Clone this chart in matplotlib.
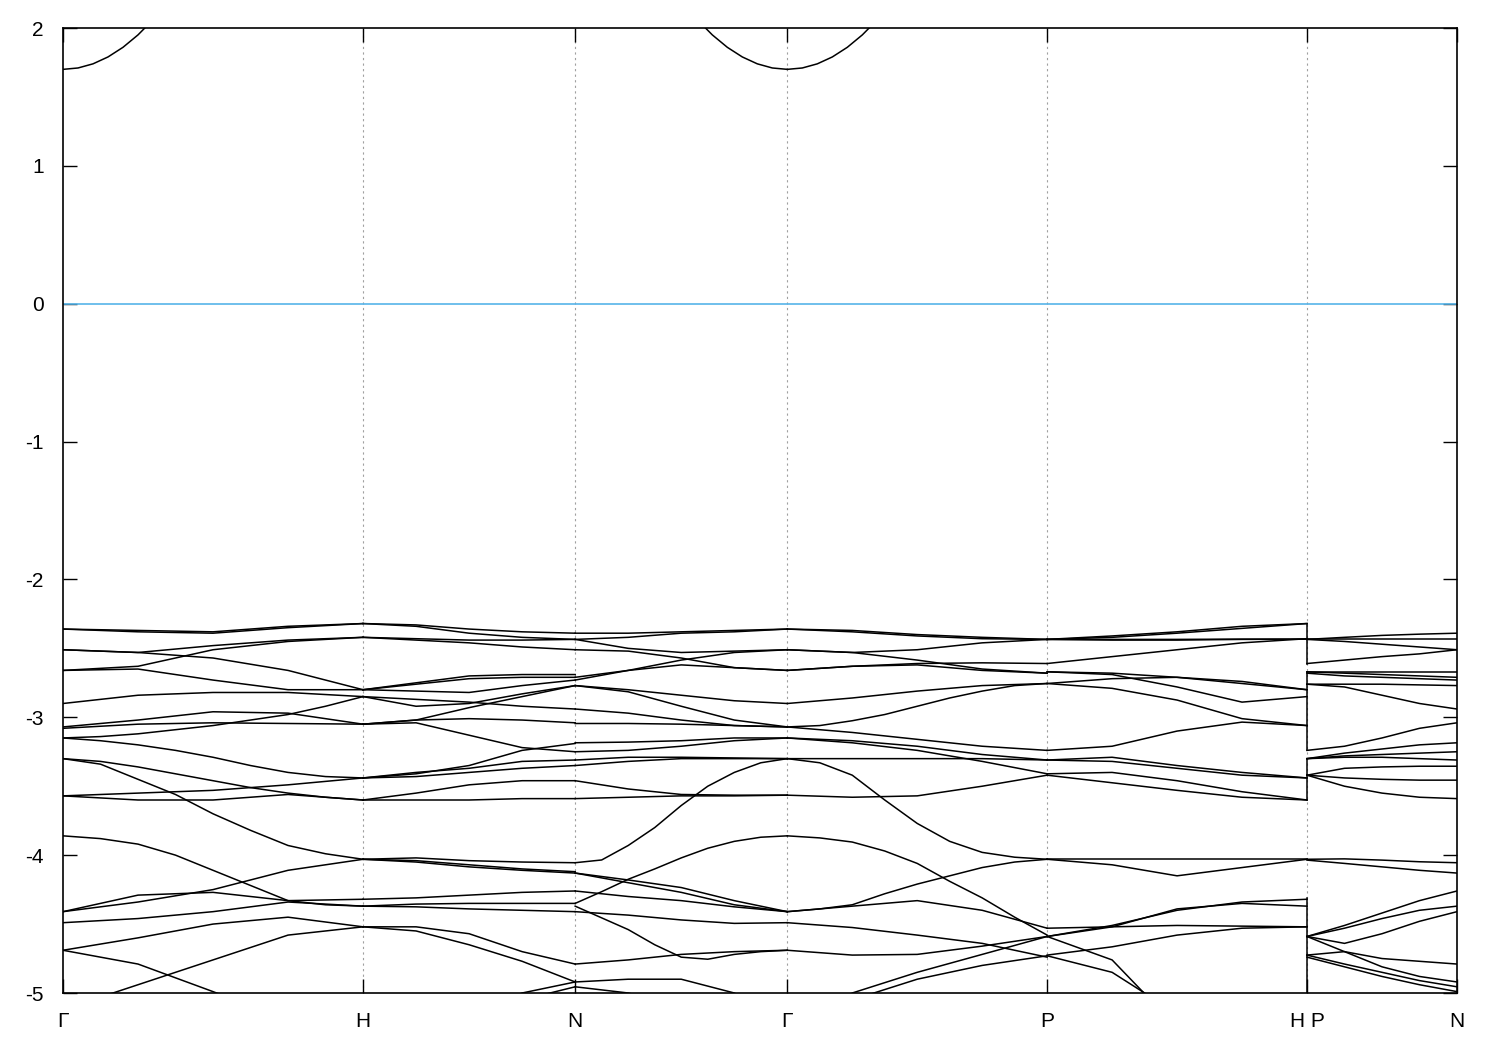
import numpy as np
import matplotlib.pyplot as plt

plt.rcParams['font.family'] = ['Liberation Sans', 'DejaVu Sans']
plt.rcParams['axes.unicode_minus'] = False

# high symmetry points of the bcc path (Γ-H-N-Γ-P-H|P-N)
kticks = [0.0, 1.0, 1.7071, 2.4142, 3.2802, 4.1463, 4.6463]
klabels = ['Γ', 'H', 'N', 'Γ', 'P', 'H P', 'N']

# each band is read at equally spaced points along its segment
# (5 or 9 values per row, from the start to the end of the segment)

# Γ -> H
bands_GH = [
    [-2.36, -2.37, -2.38, -2.34, -2.32],
    [-2.36, -2.38, -2.39, -2.35, -2.32],
    [-2.51, -2.53, -2.48, -2.44, -2.42],
    [-2.51, -2.53, -2.57, -2.66, -2.80],
    [-2.66, -2.63, -2.51, -2.45, -2.42],
    [-2.66, -2.65, -2.73, -2.80, -2.80],
    [-2.90, -2.84, -2.82, -2.82, -2.85],
    [-3.07, -3.02, -2.96, -2.97, -3.05],
    [-3.08, -3.05, -3.04, -3.045, -3.05],
    [-3.15, -3.14, -3.12, -3.09, -3.06, -3.02, -2.98, -2.92, -2.85],
    [-3.15, -3.17, -3.20, -3.24, -3.29, -3.35, -3.40, -3.43, -3.44],
    [-3.30, -3.32, -3.36, -3.41, -3.46, -3.51, -3.55, -3.58, -3.60],
    [-3.30, -3.34, -3.45, -3.56, -3.70, -3.82, -3.93, -3.99, -4.03],
    [-3.57, -3.55, -3.53, -3.49, -3.44],
    [-3.57, -3.60, -3.60, -3.56, -3.60],
    [-3.86, -3.88, -3.92, -4.00, -4.11, -4.22, -4.33, -4.36, -4.37],
    [-4.41, -4.29, -4.27, -4.33, -4.32],
    [-4.41, -4.34, -4.25, -4.11, -4.03],
    [-4.49, -4.46, -4.41, -4.34, -4.37],
    [-4.69, -4.60, -4.50, -4.45, -4.52],
    [-4.69, -4.79, -4.99, -5.20, -5.40],
    [-5.12, -4.94, -4.76, -4.58, -4.52],
]

# H -> N
bands_HN = [
    [-2.32, -2.33, -2.36, -2.38, -2.39],
    [-2.32, -2.34, -2.39, -2.42, -2.435],
    [-2.42, -2.43, -2.44, -2.44, -2.435],
    [-2.42, -2.44, -2.46, -2.49, -2.51],
    [-2.80, -2.75, -2.70, -2.69, -2.69],
    [-2.80, -2.76, -2.72, -2.71, -2.71],
    [-2.80, -2.81, -2.82, -2.77, -2.73],
    [-2.85, -2.92, -2.90, -2.83, -2.77],
    [-2.85, -2.87, -2.89, -2.92, -2.94],
    [-3.05, -3.02, -3.01, -3.02, -3.04],
    [-3.05, -3.02, -2.93, -2.85, -2.77],
    [-3.05, -3.04, -3.13, -3.22, -3.25],
    [-3.44, -3.41, -3.35, -3.24, -3.19],
    [-3.44, -3.40, -3.37, -3.32, -3.31],
    [-3.44, -3.43, -3.40, -3.37, -3.35],
    [-3.60, -3.55, -3.49, -3.46, -3.46],
    [-3.60, -3.60, -3.60, -3.59, -3.59],
    [-4.03, -4.02, -4.04, -4.05, -4.055],
    [-4.03, -4.05, -4.085, -4.11, -4.13],
    [-4.03, -4.04, -4.07, -4.10, -4.12],
    [-4.32, -4.31, -4.29, -4.27, -4.26],
    [-4.37, -4.355, -4.35, -4.35, -4.35],
    [-4.37, -4.375, -4.39, -4.40, -4.41],
    [-4.52, -4.52, -4.57, -4.70, -4.79],
    [-4.52, -4.55, -4.65, -4.77, -4.92],
    [-5.60, -5.40, -5.20, -5.00, -4.92],
    [-5.60, -5.50, -5.30, -5.05, -4.955],
]

# N -> Γ
bands_NG = [
    [-2.39, -2.39, -2.38, -2.37, -2.36],
    [-2.435, -2.42, -2.39, -2.38, -2.36],
    [-2.435, -2.50, -2.53, -2.52, -2.51],
    [-2.51, -2.52, -2.57, -2.64, -2.66],
    [-2.71, -2.66, -2.585, -2.53, -2.51],
    [-2.73, -2.66, -2.62, -2.64, -2.66],
    [-2.77, -2.80, -2.84, -2.88, -2.90],
    [-2.77, -2.815, -2.92, -3.02, -3.07],
    [-2.94, -2.97, -3.02, -3.06, -3.07],
    [-3.045, -3.045, -3.05, -3.06, -3.07],
    [-3.185, -3.18, -3.17, -3.15, -3.15],
    [-3.25, -3.24, -3.21, -3.17, -3.15],
    [-3.31, -3.29, -3.29, -3.295, -3.30],
    [-3.35, -3.32, -3.30, -3.30, -3.30],
    [-3.46, -3.52, -3.56, -3.565, -3.565],
    [-3.59, -3.58, -3.57, -3.57, -3.565],
    [-4.055, -4.035, -3.93, -3.80, -3.64, -3.50, -3.40, -3.33, -3.30],
    [-4.35, -4.265, -4.175, -4.10, -4.02, -3.95, -3.90, -3.87, -3.86],
    [-4.13, -4.18, -4.235, -4.33, -4.41],
    [-4.13, -4.20, -4.27, -4.36, -4.41],
    [-4.26, -4.30, -4.33, -4.375, -4.41],
    [-4.41, -4.435, -4.47, -4.495, -4.49],
    [-4.37, -4.455, -4.54, -4.65, -4.74, -4.755, -4.72, -4.70, -4.69],
    [-4.79, -4.76, -4.72, -4.70, -4.69],
    [-4.92, -4.90, -4.90, -5.00, -5.20],
    [-4.955, -5.00, -5.10, -5.20, -5.30],
]

# Γ -> P
bands_GP = [
    [-2.36, -2.37, -2.40, -2.42, -2.435],
    [-2.36, -2.38, -2.41, -2.43, -2.435],
    [-2.51, -2.53, -2.51, -2.46, -2.435],
    [-2.51, -2.53, -2.585, -2.65, -2.68],
    [-2.66, -2.63, -2.62, -2.66, -2.68],
    [-2.66, -2.63, -2.61, -2.605, -2.61],
    [-2.90, -2.86, -2.81, -2.77, -2.755],
    [-3.07, -3.06, -3.025, -2.98, -2.92, -2.86, -2.81, -2.77, -2.755],
    [-3.07, -3.11, -3.16, -3.21, -3.24],
    [-3.30, -3.33, -3.42, -3.60, -3.77, -3.90, -3.98, -4.015, -4.03],
    [-3.15, -3.17, -3.21, -3.27, -3.31],
    [-3.15, -3.185, -3.24, -3.32, -3.41],
    [-3.30, -3.30, -3.30, -3.30, -3.31],
    [-3.565, -3.58, -3.57, -3.50, -3.42],
    [-3.86, -3.875, -3.905, -3.97, -4.06, -4.19, -4.31, -4.45, -4.58],
    [-4.41, -4.39, -4.36, -4.28, -4.21, -4.15, -4.09, -4.05, -4.03],
    [-4.41, -4.37, -4.33, -4.40, -4.53],
    [-4.49, -4.525, -4.58, -4.64, -4.74],
    [-4.69, -4.725, -4.72, -4.66, -4.59],
    [-5.40, -5.00, -4.85, -4.72, -4.59],
    [-5.50, -5.05, -4.90, -4.80, -4.73],
]

# P -> H
bands_PH = [
    [-2.435, -2.41, -2.38, -2.34, -2.32],
    [-2.435, -2.42, -2.39, -2.355, -2.32],
    [-2.435, -2.435, -2.435, -2.433, -2.433],
    [-2.435, -2.44, -2.44, -2.435, -2.433],
    [-2.61, -2.56, -2.51, -2.46, -2.43],
    [-2.67, -2.69, -2.78, -2.89, -2.85],
    [-2.67, -2.68, -2.71, -2.755, -2.80],
    [-2.755, -2.72, -2.71, -2.74, -2.80],
    [-2.755, -2.79, -2.875, -3.01, -3.06],
    [-3.24, -3.21, -3.10, -3.035, -3.06],
    [-3.31, -3.29, -3.35, -3.40, -3.44],
    [-3.31, -3.32, -3.37, -3.42, -3.44],
    [-3.41, -3.40, -3.46, -3.54, -3.60],
    [-3.42, -3.475, -3.53, -3.58, -3.60],
    [-4.03, -4.03, -4.03, -4.03, -4.03],
    [-4.03, -4.07, -4.15, -4.09, -4.03],
    [-4.53, -4.52, -4.51, -4.515, -4.52],
    [-4.59, -4.51, -4.40, -4.34, -4.32],
    [-4.59, -4.52, -4.39, -4.35, -4.37],
    [-4.725, -4.665, -4.58, -4.53, -4.52],
    [-4.59, -4.76, -5.25, -5.60, -5.90],
    [-4.73, -4.85, -5.15, -5.40, -5.70],
]

# P -> N
bands_PN = [
    [-2.435, -2.42, -2.406, -2.397, -2.39],
    [-2.435, -2.435, -2.435, -2.435, -2.435],
    [-2.435, -2.45, -2.47, -2.49, -2.51],
    [-2.61, -2.585, -2.56, -2.54, -2.51],
    [-2.67, -2.67, -2.67, -2.67, -2.67],
    [-2.67, -2.68, -2.69, -2.70, -2.71],
    [-2.68, -2.70, -2.71, -2.72, -2.73],
    [-2.76, -2.76, -2.76, -2.765, -2.77],
    [-2.76, -2.78, -2.84, -2.90, -2.94],
    [-3.24, -3.21, -3.15, -3.08, -3.04],
    [-3.30, -3.26, -3.23, -3.20, -3.185],
    [-3.30, -3.28, -3.27, -3.26, -3.25],
    [-3.30, -3.29, -3.29, -3.30, -3.31],
    [-3.42, -3.37, -3.36, -3.355, -3.355],
    [-3.42, -3.44, -3.45, -3.456, -3.456],
    [-3.42, -3.50, -3.55, -3.58, -3.59],
    [-4.03, -4.027, -4.036, -4.048, -4.055],
    [-4.036, -4.06, -4.085, -4.11, -4.13],
    [-4.59, -4.51, -4.42, -4.33, -4.26],
    [-4.59, -4.53, -4.46, -4.40, -4.37],
    [-4.59, -4.64, -4.57, -4.48, -4.41],
    [-4.725, -4.70, -4.75, -4.77, -4.79],
    [-4.59, -4.70, -4.81, -4.88, -4.92],
    [-4.725, -4.79, -4.85, -4.91, -4.955],
    [-4.74, -4.81, -4.88, -4.94, -4.99],
]

# jumps drawn at the H|P break (energy at H, energy at P)
jump_H = [-2.32, -2.67, -3.30, -4.31]
jump_P = [-2.61, -3.24, -3.60, -5.20]

# conduction band around Γ (distance from Γ, energy)
cb_dk = [0.0, 0.05, 0.10, 0.15, 0.20, 0.25, 0.30]
cb_E = [1.70, 1.71, 1.74, 1.79, 1.86, 1.95, 2.06]

segments = [
    (kticks[0], kticks[1], bands_GH),
    (kticks[1], kticks[2], bands_HN),
    (kticks[2], kticks[3], bands_NG),
    (kticks[3], kticks[4], bands_GP),
    (kticks[4], kticks[5], bands_PH),
    (kticks[5], kticks[6], bands_PN),
]

fig = plt.figure(figsize=(15, 10.5), dpi=100)
ax = fig.add_axes([63/1500, 1-993/1050, (1457-63)/1500, (993-28)/1050])

# dotted lines at the special points
for k in kticks[1:-1]:
    ax.axvline(k, color='#a0a0a0', ls=(0, (2, 3)), lw=0.8, zorder=1)

ax.axhline(0.0, color='#56b4e9', lw=1.2, zorder=2)

for k0, k1, bands in segments:
    for row in bands:
        kk = np.linspace(k0, k1, len(row))
        ax.plot(kk, row, color='black', lw=1.1, zorder=3)

for eh, ep in zip(jump_H, jump_P):
    ax.plot([kticks[5], kticks[5]], [eh, ep], color='black', lw=1.1, zorder=3)

dk = np.array(cb_dk)
ax.plot(kticks[0] + dk, cb_E, color='black', lw=1.1)
ax.plot(kticks[3] - dk, cb_E, color='black', lw=1.1)
ax.plot(kticks[3] + dk, cb_E, color='black', lw=1.1)

ax.set_xlim(kticks[0], kticks[-1])
ax.set_ylim(-5, 2)
ax.set_xticks(kticks)
ax.set_xticklabels(klabels)
ax.set_yticks(range(-5, 3))
ax.tick_params(direction='in', length=10, width=1, top=True, right=True,
               labelsize=15)
ax.tick_params(axis='y', pad=14)
ax.tick_params(axis='x', pad=14)
for s in ax.spines.values():
    s.set_linewidth(1.2)

fig.savefig('out.png', dpi=100)
